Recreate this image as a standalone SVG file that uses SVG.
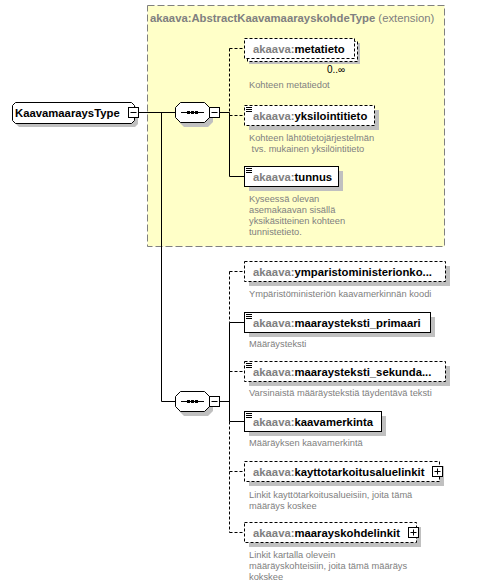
<svg xmlns="http://www.w3.org/2000/svg" width="488" height="587" viewBox="0 0 488 587">
<defs>
<style>
.lbl{font-family:"Liberation Sans",Arial,sans-serif;font-size:11.3px;font-weight:bold;fill:#000}
.ns{fill:#808080}
.desc{font-family:"Liberation Sans",Arial,sans-serif;font-size:9.3px;fill:#808080}
.occ{font-family:"Liberation Sans",Arial,sans-serif;font-size:10px;fill:#000}
.box{fill:#fff;stroke:#000;stroke-width:1}
.opt{fill:#fff;stroke:#000;stroke-width:1;stroke-dasharray:3,2}
.shadow{fill:#c0c0c0}
.ln{fill:none;stroke:#000;stroke-width:1}
.dln{fill:none;stroke:#000;stroke-width:1;stroke-dasharray:3,2}
.btn{fill:#fff;stroke:#000;stroke-width:1}
.ext{fill:#ffffc8;stroke:#808080;stroke-width:1;stroke-dasharray:7,3}
</style>
</defs>
<rect width="488" height="587" fill="#fff"/>

<g id="extension">
<rect class="ext" x="147.5" y="5.5" width="297" height="241"/>
<text x="150" y="22" font-family="Liberation Sans,Arial,sans-serif" font-size="11.3px" fill="#808080"><tspan font-weight="bold">akaava:AbstractKaavamaarayskohdeType</tspan> (extension)</text>
</g>

<g id="connectors">
<line class="ln" x1="138" y1="112.5" x2="175" y2="112.5"/>
<line class="ln" x1="161.5" y1="112.5" x2="161.5" y2="401.5"/>
<line class="ln" x1="161.5" y1="401.5" x2="175" y2="401.5"/>
<line class="ln" x1="219.5" y1="112.5" x2="229.5" y2="112.5"/>
<line class="dln" x1="229.5" y1="48.5" x2="229.5" y2="112.5"/>
<line class="ln" x1="229.5" y1="112.5" x2="229.5" y2="176.5"/>
<line class="dln" x1="229.5" y1="48.5" x2="244" y2="48.5"/>
<line class="dln" x1="229.5" y1="115.5" x2="244" y2="115.5"/>
<line class="ln" x1="229.5" y1="176.5" x2="244" y2="176.5"/>
<line class="ln" x1="219.5" y1="401.5" x2="229.5" y2="401.5"/>
<line class="dln" x1="229.5" y1="271.5" x2="229.5" y2="322.5"/>
<line class="ln" x1="229.5" y1="322.5" x2="229.5" y2="421.5"/>
<line class="dln" x1="229.5" y1="421.5" x2="229.5" y2="532.5"/>
<line class="dln" x1="229.5" y1="271.5" x2="244" y2="271.5"/>
<line class="ln" x1="229.5" y1="322.5" x2="244" y2="322.5"/>
<line class="dln" x1="229.5" y1="371.5" x2="244" y2="371.5"/>
<line class="ln" x1="229.5" y1="421.5" x2="244" y2="421.5"/>
<line class="dln" x1="229.5" y1="471.5" x2="244" y2="471.5"/>
<line class="dln" x1="229.5" y1="532.5" x2="244" y2="532.5"/>
</g>

<g id="KaavamaaraysType">
<path class="shadow" d="M19,106 H135 L138,109 V124 L135,127 H19 L16,124 V109 Z"/>
<path class="box" d="M15.5,102.5 H131.5 L134.5,105.5 V120.5 L131.5,123.5 H15.5 L12.5,120.5 V105.5 Z"/>
<text class="lbl" x="15" y="117">KaavamaaraysType</text>
<rect class="btn" x="128.5" y="107.5" width="10" height="10"/>
<line class="ln" x1="130.5" y1="112.5" x2="136.5" y2="112.5"/>
</g>

<g id="sequence1">
<path class="shadow" d="M184,106 H208 L213,111 V122 L208,127 H184 L179,122 V111 Z"/>
<path class="box" d="M180.5,102.5 H204.5 L209.5,107.5 V117.5 L204.5,122.5 H180.5 L175.5,117.5 V107.5 Z"/>
<line class="ln" x1="181" y1="112.5" x2="204" y2="112.5"/>
<rect x="187" y="111" width="3" height="3" fill="#000"/>
<rect x="191" y="111" width="3" height="3" fill="#000"/>
<rect x="195" y="111" width="3" height="3" fill="#000"/>
<rect class="btn" x="209.5" y="107.5" width="10" height="10"/>
<line class="ln" x1="211.5" y1="112.5" x2="217.5" y2="112.5"/>
</g>

<g id="metatieto">
<rect class="shadow" x="249" y="43" width="111" height="21"/>
<rect class="opt" x="247.5" y="41.5" width="110" height="20"/>
<rect class="opt" x="244.5" y="38.5" width="110" height="20"/>
<text class="lbl" x="253" y="52.5"><tspan class="ns">akaava:</tspan>metatieto</text>
<text class="occ" x="327" y="73">0..∞</text>
<text class="desc" x="249" y="88">Kohteen metatiedot</text>
</g>

<g id="yksilointitieto">
<rect class="shadow" x="249" y="110" width="130" height="20"/>
<rect class="opt" x="244.5" y="105.5" width="130" height="20"/>
<path class="ln" d="M246,107.5 h6 M246,109.5 h6 M246,111.5 h6"/>
<text class="lbl" x="253" y="119.5"><tspan class="ns">akaava:</tspan>yksilointitieto</text>
<text class="desc" x="249" y="141">Kohteen lähtötietojärjestelmän</text>
<text class="desc" x="249" y="152" xml:space="preserve"> tvs. mukainen yksilöintitieto</text>
</g>

<g id="tunnus">
<rect class="shadow" x="249" y="171" width="94" height="20"/>
<rect class="box" x="244.5" y="166.5" width="94" height="20"/>
<path class="ln" d="M246,168.5 h6 M246,170.5 h6 M246,172.5 h6"/>
<text class="lbl" x="253" y="180.5"><tspan class="ns">akaava:</tspan>tunnus</text>
<text class="desc" x="249" y="202">Kyseessä olevan</text>
<text class="desc" x="249" y="213">asemakaavan sisällä</text>
<text class="desc" x="249" y="224">yksikäsitteinen kohteen</text>
<text class="desc" x="249" y="235">tunnistetieto.</text>
</g>

<g id="sequence2">
<path class="shadow" d="M184,395 H208 L213,400 V411 L208,416 H184 L179,411 V400 Z"/>
<path class="box" d="M180.5,391.5 H204.5 L209.5,396.5 V406.5 L204.5,411.5 H180.5 L175.5,406.5 V396.5 Z"/>
<line class="ln" x1="181" y1="401.5" x2="204" y2="401.5"/>
<rect x="187" y="400" width="3" height="3" fill="#000"/>
<rect x="191" y="400" width="3" height="3" fill="#000"/>
<rect x="195" y="400" width="3" height="3" fill="#000"/>
<rect class="btn" x="209.5" y="396.5" width="10" height="10"/>
<line class="ln" x1="211.5" y1="401.5" x2="217.5" y2="401.5"/>
</g>

<g id="ymparistoministerionkoodi">
<rect class="shadow" x="249" y="266" width="201" height="20"/>
<rect class="opt" x="244.5" y="261.5" width="201" height="20"/>
<text class="lbl" x="253" y="275.5"><tspan class="ns">akaava:</tspan>ymparistoministerionko...</text>
<text class="desc" x="249" y="297">Ympäristöministeriön kaavamerkinnän koodi</text>
</g>

<g id="maaraysteksti_primaari">
<rect class="shadow" x="249" y="317" width="186" height="20"/>
<rect class="box" x="244.5" y="312.5" width="186" height="20"/>
<path class="ln" d="M246,314.5 h6 M246,316.5 h6 M246,318.5 h6"/>
<text class="lbl" x="253" y="326.5"><tspan class="ns">akaava:</tspan>maaraysteksti_primaari</text>
<text class="desc" x="249" y="347">Määräysteksti</text>
</g>

<g id="maaraysteksti_sekundaari">
<rect class="shadow" x="249" y="366" width="201" height="20"/>
<rect class="opt" x="244.5" y="361.5" width="201" height="20"/>
<path class="ln" d="M246,363.5 h6 M246,365.5 h6 M246,367.5 h6"/>
<text class="lbl" x="253" y="375.5"><tspan class="ns">akaava:</tspan>maaraysteksti_sekunda...</text>
<text class="desc" x="249" y="396">Varsinaistä määräystekstiä täydentävä teksti</text>
</g>

<g id="kaavamerkinta">
<rect class="shadow" x="249" y="416" width="137" height="20"/>
<rect class="box" x="244.5" y="411.5" width="137" height="20"/>
<path class="ln" d="M246,413.5 h6 M246,415.5 h6 M246,417.5 h6"/>
<text class="lbl" x="253" y="425.5"><tspan class="ns">akaava:</tspan>kaavamerkinta</text>
<text class="desc" x="249" y="446">Määräyksen kaavamerkintä</text>
</g>

<g id="kayttotarkoitusaluelinkit">
<rect class="shadow" x="249" y="466" width="195" height="20"/>
<rect class="opt" x="244.5" y="461.5" width="195" height="20"/>
<text class="lbl" x="253" y="475.5"><tspan class="ns">akaava:</tspan>kayttotarkoitusaluelinkit</text>
<rect class="btn" x="432.5" y="466.5" width="10" height="10"/>
<path class="ln" d="M434.5,471.5 h6 M437.5,468.5 v6"/>
<text class="desc" x="249" y="497.5">Linkit kayttötarkoitusalueisiin, joita tämä</text>
<text class="desc" x="249" y="508.5">määräys koskee</text>
</g>

<g id="maarayskohdelinkit">
<rect class="shadow" x="249" y="527" width="172" height="20"/>
<rect class="opt" x="244.5" y="522.5" width="172" height="20"/>
<text class="lbl" x="253" y="536.5"><tspan class="ns">akaava:</tspan>maarayskohdelinkit</text>
<rect class="btn" x="408.5" y="527.5" width="10" height="10"/>
<path class="ln" d="M410.5,532.5 h6 M413.5,529.5 v6"/>
<text class="desc" x="249" y="558">Linkit kartalla olevein</text>
<text class="desc" x="249" y="569">määräyskohteisiin, joita tämä määräys</text>
<text class="desc" x="249" y="580">kokskee</text>
</g>
</svg>
